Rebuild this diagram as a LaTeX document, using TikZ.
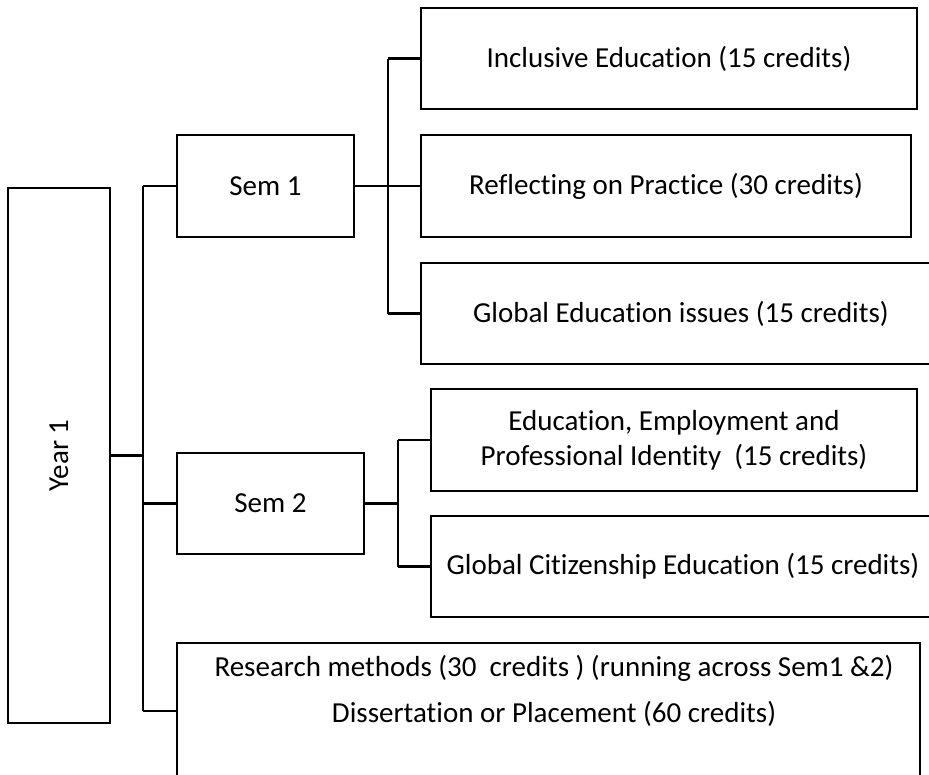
\documentclass[tikz,border=0pt]{standalone}
\usepackage{fontspec}
\setmainfont{Carlito}[Ligatures={NoCommon,NoContextual}]
\tikzset{
  box/.style={draw,line width=2.6pt,inner sep=0pt,align=center,font=\fontsize{29}{35}\selectfont},
  link/.style={line width=2.6pt},
}
\begin{document}
\begin{tikzpicture}[x=1pt,y=-1pt]
\useasboundingbox (0,0) rectangle (929,774);
\clip (0,0) rectangle (929,774);

\node[box,minimum width=102,minimum height=535] (year) at (59,455.5) {\rotatebox{90}{Year 1}};

\node[box,minimum width=177,minimum height=102] (sem1) at (265.5,186) {Sem 1};
\node[box,minimum width=187,minimum height=101] (sem2) at (270.5,503.5) {Sem 2};

\node[box,minimum width=496,minimum height=101] (incl) at (669,58.5) {Inclusive Education (15 credits)};
\node[box,minimum width=490,minimum height=102] (refl) at (666,186) {Reflecting on Practice (30 credits)};
\node[box,minimum width=520,minimum height=101] (glob) at (681,313.5) {Global Education issues (15 credits)};

\node[box,minimum width=486,minimum height=102] (empl) at (674,440) {Education, Employment and\\Professional Identity~~(15 credits)};
\node[box,minimum width=504,minimum height=101] (citz) at (683,566.5) {Global Citizenship Education (15 credits)};

\node[box,minimum width=743,minimum height=136] (res) at (548.5,711) {};
\node[box,draw=none,font=\fontsize{29}{46}\selectfont] (restext) at (554,691) {Research methods (30~~credits ) (running across Sem1 \&2)\\Dissertation or Placement (60 credits)};

\coordinate (j1) at (143,0);
\coordinate (j2) at (388,0);
\coordinate (j3) at (398,0);

\draw[link] (year.east) -- (year.east -| j1);
\draw[link] (sem1.west -| j1) -- (res.west -| j1);
\draw[link] (sem1.west -| j1) -- (sem1.west);
\draw[link] (sem2.west -| j1) -- (sem2.west);
\draw[link] (res.west -| j1) -- (res.west);

\draw[link] (sem1.east) -- (refl.west);
\draw[link] (incl.west -| j2) -- (glob.west -| j2);
\draw[link] (incl.west -| j2) -- (incl.west);
\draw[link] (glob.west -| j2) -- (glob.west);

\draw[link] (sem2.east) -- (sem2.east -| j3);
\draw[link] (empl.west -| j3) -- (citz.west -| j3);
\draw[link] (empl.west -| j3) -- (empl.west);
\draw[link] (citz.west -| j3) -- (citz.west);

\end{tikzpicture}
\end{document}
